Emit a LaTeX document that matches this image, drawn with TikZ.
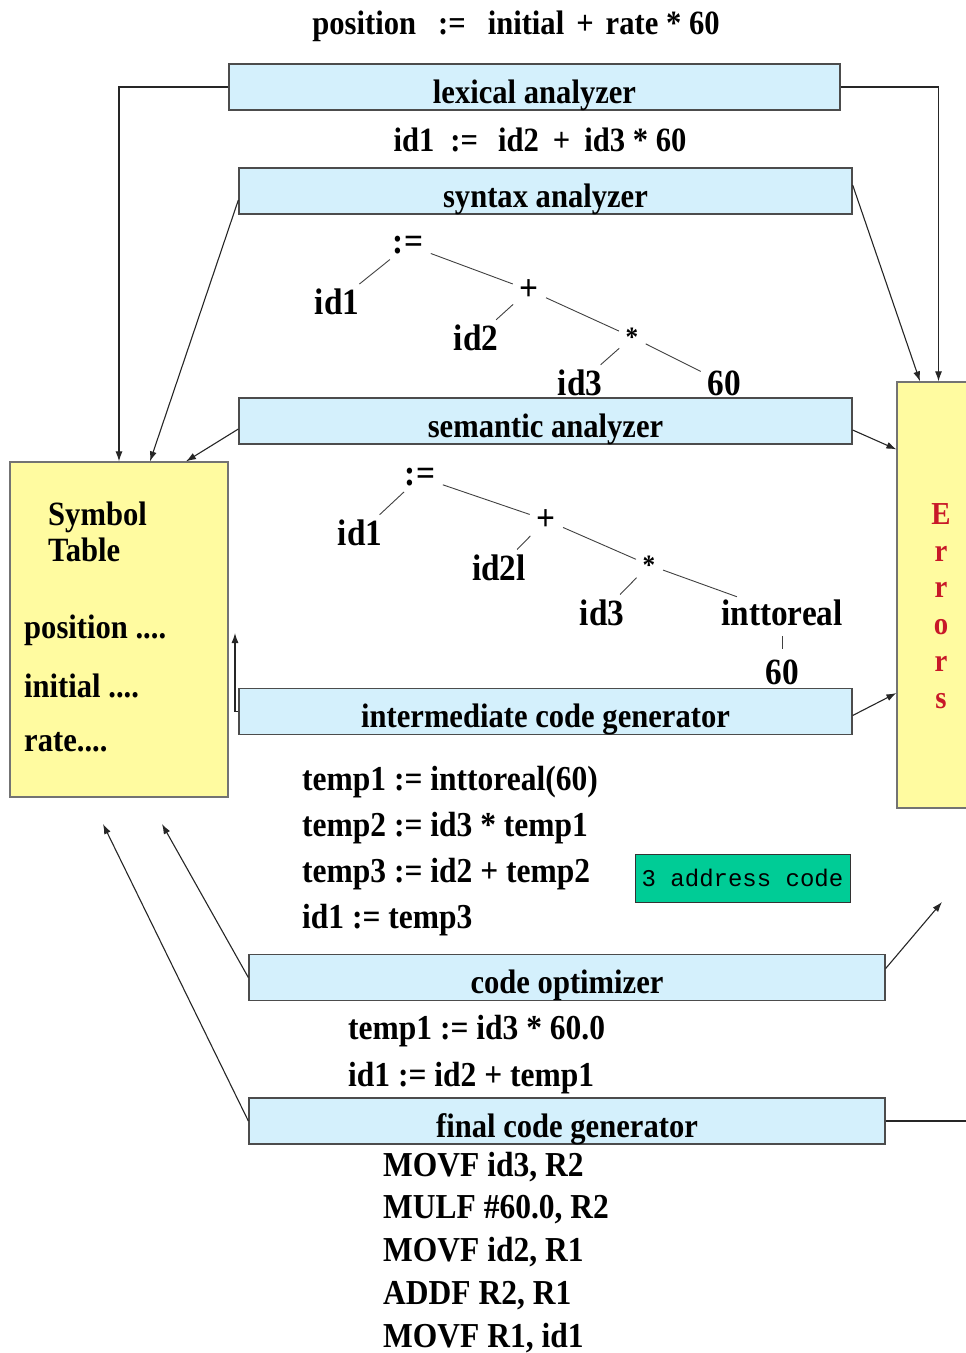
\documentclass[tikz,border=0pt]{standalone}
\usepackage{fontspec}
\setmainfont{Liberation Serif}[FakeStretch=0.9]
\setmonofont{Liberation Mono}
\usetikzlibrary{arrows.meta}

\definecolor{phasefill}{RGB}{212,240,252}
\definecolor{tablefill}{RGB}{255,251,160}
\definecolor{notefill}{RGB}{0,204,150}
\definecolor{errtext}{RGB}{200,24,40}
\newcommand{\fsize}[1]{\fontsize{#1}{#1}\selectfont}

\begin{document}
\begin{tikzpicture}[x=1pt,y=-1pt,
  phase/.style={draw=black!70,line width=1.3pt,fill=phasefill,inner sep=0pt,
    minimum height=46pt,text height=36pt,text depth=4pt,font=\fsize{34}\bfseries},
  store/.style={draw=black!55,line width=1.2pt,fill=tablefill,inner sep=0pt},
  lbl/.style={inner sep=0pt,font=\fsize{34}\bfseries},
  symline/.style={lbl,anchor=west},
  leaf/.style={inner sep=1pt,font=\fsize{37}\bfseries},
  code/.style={inner sep=0pt,anchor=west,font=\fsize{35}\bfseries},
  edge/.style={line width=0.9pt,black!75,shorten <=7pt,shorten >=6pt},
  link/.style={line width=1.1pt,black!85,-{Latex[length=10pt,width=7pt]}}]
\useasboundingbox (0,0) rectangle (966,1353);

% source statement and token stream
\node[lbl] (src) at (516,26) {position\hspace{22pt}:=\hspace{22pt}initial\hspace{12pt}+\hspace{12pt}rate * 60};
\node[lbl] (tok) at (540,140) {id1\hspace{16pt}:=\hspace{20pt}id2\hspace{14pt}+\hspace{14pt}id3 * 60};

% phases
\node[phase,minimum width=611pt] (lex) at (534.5,87) {lexical analyzer};
\node[phase,minimum width=613pt] (syn) at (545.5,191) {syntax analyzer};
\node[phase,minimum width=613pt] (sem) at (545.5,421) {semantic analyzer};
\node[phase,minimum width=613pt] (icg) at (545.5,711.5) {intermediate code generator};
\node[phase,minimum width=636pt] (opt) at (567,977.5) {code optimizer};
\node[phase,minimum width=636pt] (fcg) at (567,1121) {final code generator};

% symbol table and errors
\node[store,minimum width=218pt,minimum height=335pt] (symtab) at (119,629.5) {};
\node[store,minimum width=76pt,minimum height=426pt] (errors) at (935,595) {};
\node[symline,align=left,font=\fontsize{34}{36}\selectfont\bfseries] (symhead) at (48,532) {Symbol\\Table};
\node[symline] (symA) at (24,630) {position ....};
\node[symline] (symB) at (24,686) {initial ....};
\node[symline] (symC) at (24,742) {rate....};
\node[lbl,text=errtext,align=center,font=\fontsize{32}{36.8}\selectfont\bfseries] (errtxt) at (941,606) {E\\r\\r\\o\\r\\s};

% syntax tree
\node[leaf] (sa) at (408,245) {:=};
\node[leaf] (s1) at (337,302) {id1};
\node[leaf] (sp) at (529,290) {+};
\node[leaf] (s2) at (476,338) {id2};
\node[leaf,font=\fsize{28}\bfseries] (sm) at (632,337) {*};
\node[leaf] (s3) at (580,383) {id3};
\node[leaf] (s60) at (724,383) {60};
\foreach \a/\b in {sa/s1,sa/sp,sp/s2,sp/sm,sm/s3,sm/s60}
  \draw[edge] (\a) -- (\b);

% semantic tree
\node[leaf] (ta) at (420,477) {:=};
\node[leaf] (t1) at (360,533) {id1};
\node[leaf] (tp) at (546,520) {+};
\node[leaf] (t2) at (499,568) {id2l};
\node[leaf,font=\fsize{28}\bfseries] (tm) at (649,565) {*};
\node[leaf] (t3) at (602,613) {id3};
\node[leaf] (tr) at (782,613) {inttoreal};
\node[leaf] (t60) at (782,672) {60};
\foreach \a/\b in {ta/t1,ta/tp,tp/t2,tp/tm,tm/t3,tm/tr}
  \draw[edge] (\a) -- (\b);
\draw[edge,shorten <=9pt,shorten >=9pt] (tr) -- (t60);

% intermediate code
\foreach \t [count=\i] in {{temp1 := inttoreal(60)},{temp2 := id3 * temp1},{temp3 := id2 + temp2},{id1 := temp3}}
  \node[code] (ir\i) at (302,{782+46*(\i-1)}) {\t};
\node[draw=black!80,line width=1pt,fill=notefill,minimum width=215pt,minimum height=48pt,
  inner sep=0pt,font=\fsize{24}\ttfamily] (tac) at (742.5,878) {3 address code};

% optimized code
\node[code] (oc1) at (348,1031) {temp1 := id3 * 60.0};
\node[code] (oc2) at (348,1078) {id1 := id2 + temp1};

% target code
\foreach \t [count=\i] in {{MOVF id3, R2},{MULF \#60.0, R2},{MOVF id2, R1},{ADDF R2, R1},{MOVF R1, id1}}
  \node[code] (mc\i) at (383,{1167+42.75*(\i-1)}) {\t};

% connectors
\coordinate (symin) at (235,633);
\coordinate (stA) at (162,824);
\coordinate (stB) at (103,824);
\coordinate (errA) at (942,902);
\coordinate (errB) at (966,1121);
\draw[link] (lex.west) -| (symtab.north);
\draw[link] (lex.east) -| ([xshift=3.5pt]errors.north);
\draw[link] ([yshift=-9pt]syn.west) -- ([xshift=31pt]symtab.north);
\draw[link] ([yshift=6pt]syn.east) -- ([xshift=-15pt]errors.north);
\draw[link] ([yshift=-8pt]sem.west) -- ([xshift=67pt]symtab.north);
\draw[link] ([yshift=-9pt]sem.east) -- ([yshift=-68pt]errors.north west);
\draw[link] (icg.west) -| (symin);
\draw[link] ([yshift=-4pt]icg.east) -- ([yshift=-98pt]errors.west);
\draw[link] ([yshift=9pt]opt.east) -- (errA);
\draw[link] (opt.west) -- (stA);
\draw[link] (fcg.west) -- (stB);
\draw[line width=1.1pt,black!85] (fcg.east) -- (errB);
\end{tikzpicture}
\end{document}
